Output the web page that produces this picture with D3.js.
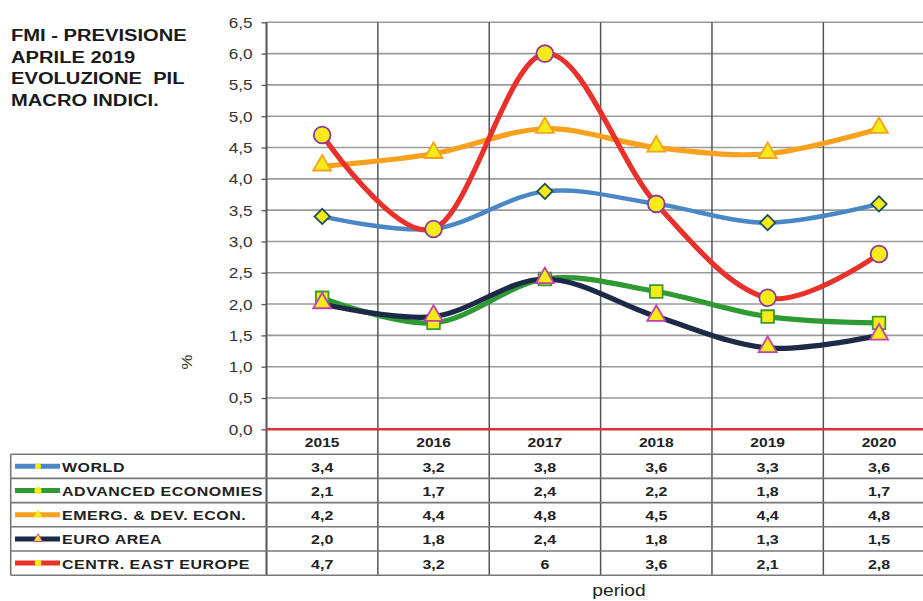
<!DOCTYPE html>
<html>
<head>
<meta charset="utf-8">
<script src="https://cdn.jsdelivr.net/npm/d3@7"></script>
<style>
  html, body { margin: 0; padding: 0; background: #fff; }
  svg { display: block; font-family: Arial, "Liberation Sans", Helvetica, sans-serif; }
  text { white-space: pre; }
</style>
</head>
<body>
<svg id="chart" width="923" height="601"></svg>
<script>
// Periods on the horizontal axis
const years = ["2015", "2016", "2017", "2018", "2019", "2020"];

// GDP growth (%) per aggregate
const world      = [3.4, 3.2, 3.8, 3.6, 3.3, 3.6];
const advanced   = [2.1, 1.7, 2.4, 2.2, 1.8, 1.7];
const emerging   = [4.2, 4.4, 4.8, 4.5, 4.4, 4.8];
const euroArea   = [2.0, 1.8, 2.4, 1.8, 1.3, 1.5];
const centralEast = [4.7, 3.2, 6.0, 3.6, 2.1, 2.8];

const seriesNames = ["WORLD", "ADVANCED ECONOMIES", "EMERG. & DEV. ECON.", "EURO AREA", "CENTR. EAST EUROPE"];

// Y axis ticks
const yTicks = [0, 0.5, 1, 1.5, 2, 2.5, 3, 3.5, 4, 4.5, 5, 5.5, 6, 6.5];

const titleLines = ["FMI - PREVISIONE", "APRILE 2019", "EVOLUZIONE  PIL", "MACRO INDICI."];

const series = [
  { name: seriesNames[0], values: world,       line: "#4b87c6", marker: "diamond",  fill: "#f6ea17", stroke: "#1f4f5a", general: false },
  { name: seriesNames[1], values: advanced,    line: "#2f9a34", marker: "square",   fill: "#f6ea17", stroke: "#3b9b2f", general: false },
  { name: seriesNames[2], values: emerging,    line: "#f7a11c", marker: "triangle", fill: "#f6ea17", stroke: "#f4a21f", general: false },
  { name: seriesNames[3], values: euroArea,    line: "#1c2a48", marker: "triangle", fill: "#f6ea17", stroke: "#c23fb4", general: false },
  { name: seriesNames[4], values: centralEast, line: "#e8312a", marker: "circle",   fill: "#f6ea17", stroke: "#8d3a9c", general: true }
];

const svg = d3.select("#chart");
const SX = 1.2; // horizontal stretch applied to all text

const plot = { left: 266.5, right: 934.7, top: 22.3, bottom: 429.3 };
const rowH = 24.2;
const tableTop = 454.2;
const legendLeft = 10.7;

const x = d3.scaleBand().domain(years).range([plot.left, plot.right]).padding(0);
const cx = d => x(d) + x.bandwidth() / 2;
const y = d3.scaleLinear().domain([0, 6.5]).range([plot.bottom, plot.top]);

const comma = s => s.replace(".", ",");
const fmtFixed = v => comma(d3.format(".1f")(v));
const fmtGeneral = v => comma(d3.format("~g")(v));

function label(g, px, py, text, o) {
  return g.append("text")
    .attr("transform", `translate(${px},${py}) scale(${SX},1)`)
    .attr("text-anchor", o.anchor || "start")
    .attr("dominant-baseline", o.baseline || "auto")
    .attr("font-size", o.size)
    .attr("font-weight", o.weight || "normal")
    .attr("letter-spacing", o.spacing || 0)
    .attr("fill", o.fill || "#222")
    .text(text);
}

// ---- title
const tg = svg.append("g");
titleLines.forEach((t, i) => {
  label(tg, 11, 41 + i * 21.7, t, { size: 16.8, weight: "bold", fill: "#1a1a1a" });
});

// ---- grid
const grid = svg.append("g");
grid.selectAll("line.h").data(yTicks.filter(v => v > 0)).join("line")
  .attr("x1", plot.left).attr("x2", plot.right)
  .attr("y1", d => y(d)).attr("y2", d => y(d))
  .attr("stroke", "#9a9a9a").attr("stroke-width", 1.6);

// vertical dividers across plot and table
const dividers = years.slice(1).map(d => x(d));
grid.selectAll("line.v").data(dividers).join("line")
  .attr("x1", d => d).attr("x2", d => d)
  .attr("y1", plot.top).attr("y2", tableTop + rowH * 5)
  .attr("stroke", "#555").attr("stroke-width", 1.5);

// y axis
const yAxis = d3.axisLeft(y).tickValues(yTicks).tickSize(5).tickFormat(fmtFixed);
const ya = svg.append("g").attr("transform", `translate(${plot.left},0)`).call(yAxis);
ya.select(".domain").remove();
ya.selectAll(".tick line").attr("stroke", "#555").attr("stroke-width", 1.3);
ya.selectAll(".tick text").remove();
ya.selectAll(".tick").each(function (d) {
  label(d3.select(this), -14, 0, fmtFixed(d), { size: 14.3, anchor: "end", baseline: "central", fill: "#333" });
});
svg.append("line")
  .attr("x1", plot.left).attr("x2", plot.left)
  .attr("y1", plot.top).attr("y2", tableTop + rowH * 5)
  .attr("stroke", "#555").attr("stroke-width", 2);

// zero line
svg.append("line")
  .attr("x1", plot.left).attr("x2", plot.right)
  .attr("y1", y(0)).attr("y2", y(0))
  .attr("stroke", "#d8353a").attr("stroke-width", 2.6);

// axis title
label(svg, 0, 0, "%", { size: 14, anchor: "middle", fill: "#333" })
  .attr("transform", `translate(192,362) rotate(-90) scale(${SX},1)`);

// ---- data table
const table = svg.append("g");
const rowsY = d3.range(6).map(i => tableTop + i * rowH);
table.selectAll("line.r").data(rowsY).join("line")
  .attr("x1", legendLeft).attr("x2", plot.right)
  .attr("y1", d => d).attr("y2", d => d)
  .attr("stroke", "#777").attr("stroke-width", 1.6);
table.append("line")
  .attr("x1", legendLeft).attr("x2", legendLeft)
  .attr("y1", tableTop).attr("y2", tableTop + rowH * 5)
  .attr("stroke", "#777").attr("stroke-width", 1.6);

years.forEach(yr => {
  label(table, cx(yr), (plot.bottom + tableTop) / 2 + 1, yr, { size: 13, weight: "bold", anchor: "middle", baseline: "central" });
});

// marker shapes
const symbolOf = {
  diamond: d3.symbol().type(d3.symbolSquare).size(118),
  square: d3.symbol().type(d3.symbolSquare).size(160),
  triangle: d3.symbol().type(d3.symbolTriangle).size(140),
  circle: d3.symbol().type(d3.symbolCircle).size(220)
};
const legendSymbolOf = {
  diamond: d3.symbol().type(d3.symbolCircle).size(28),
  square: d3.symbol().type(d3.symbolCircle).size(40),
  triangle: d3.symbol().type(d3.symbolTriangle).size(34),
  circle: d3.symbol().type(d3.symbolCircle).size(34)
};

series.forEach((s, i) => {
  const ry = tableTop + (i + 0.5) * rowH;
  table.append("line")
    .attr("x1", 15).attr("x2", 60).attr("y1", ry).attr("y2", ry)
    .attr("stroke", s.line).attr("stroke-width", 5);
  table.append("path")
    .attr("d", legendSymbolOf[s.marker]())
    .attr("transform", `translate(38,${ry})`)
    .attr("fill", s.fill).attr("stroke", s.marker === "triangle" && i === 3 ? s.stroke : "none").attr("stroke-width", 1);
  label(table, 62, ry + 1, s.name, { size: 13.3, weight: "bold", baseline: "central", spacing: 0.45, fill: "#222" });
  s.values.forEach((v, j) => {
    label(table, cx(years[j]), ry + 1, s.general ? fmtGeneral(v) : fmtFixed(v),
      { size: 13.3, weight: "bold", anchor: "middle", baseline: "central" });
  });
});

// ---- series lines and markers
const line = d3.line()
  .x((d, j) => cx(years[j]))
  .y(d => y(d))
  .curve(d3.curveCardinal.tension(0));

const lines = svg.append("g");
series.forEach(s => {
  lines.append("path")
    .attr("d", line(s.values))
    .attr("fill", "none")
    .attr("stroke", s.line)
    .attr("stroke-width", s.marker === "diamond" ? 4.5 : 5.2)
    .attr("stroke-linejoin", "round")
    .attr("stroke-linecap", "round");
  lines.selectAll(null).data(s.values).join("path")
    .attr("d", symbolOf[s.marker]())
    .attr("transform", (d, j) => `translate(${cx(years[j])},${y(d)})` + (s.marker === "diamond" ? " rotate(45)" : "") + (s.marker === "triangle" ? " translate(0,-1)" : ""))
    .attr("fill", s.fill)
    .attr("stroke", s.stroke)
    .attr("stroke-width", 1.8);
});

// axis title under the table
label(svg, 619, 596, "period", { size: 16, anchor: "middle", fill: "#222" });
</script>
</body>
</html>
